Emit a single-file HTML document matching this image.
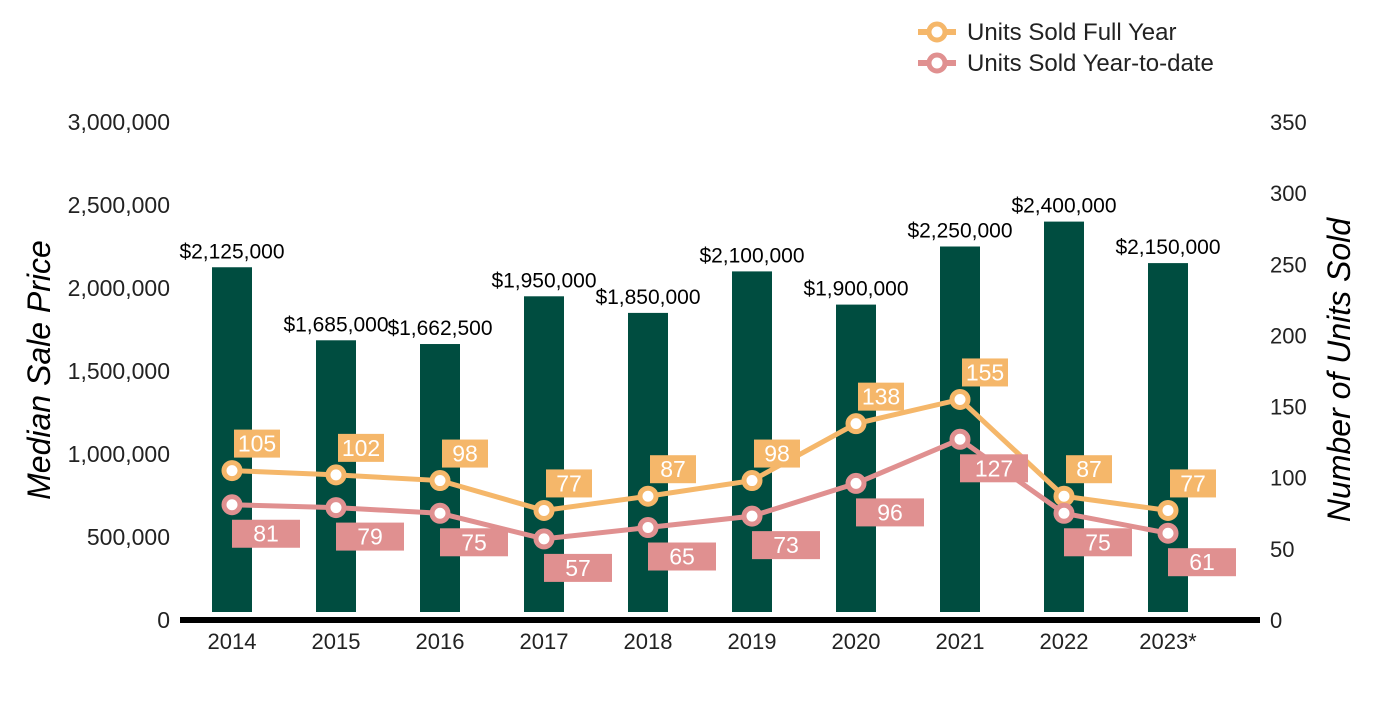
<!DOCTYPE html>
<html><head><meta charset="utf-8"><style>
body{margin:0;background:#fff;}
svg{font-family:"Liberation Sans",Arial,sans-serif;}
</style></head><body>
<svg id="chart" width="1400" height="700">
<g id="legend">
 <g>
  <line x1="918" y1="32" x2="956" y2="32" stroke="#F5B76A" stroke-width="6"/>
  <circle cx="937" cy="32" r="8" fill="#fff" stroke="#F5B76A" stroke-width="5"/>
  <text x="967" y="40" font-size="24" fill="#222">Units Sold Full Year</text>
 </g>
 <g>
  <line x1="918" y1="63" x2="956" y2="63" stroke="#E09090" stroke-width="6"/>
  <circle cx="937" cy="63" r="8" fill="#fff" stroke="#E09090" stroke-width="5"/>
  <text x="967" y="71" font-size="24" fill="#222">Units Sold Year-to-date</text>
 </g>
</g>
<text transform="translate(50,370) rotate(-90)" text-anchor="middle" font-size="32" font-style="italic" fill="#000">Median Sale Price</text>
<text transform="translate(1350,370) rotate(-90)" text-anchor="middle" font-size="32" font-style="italic" fill="#000">Number of Units Sold</text>
<g id="axes"></g>
<g id="bars"></g>
<g id="lines"></g>
</svg>
<script>
const categories=["2014","2015","2016","2017","2018","2019","2020","2021","2022","2023*"];
const prices=[2125000,1685000,1662500,1950000,1850000,2100000,1900000,2250000,2400000,2150000];
const priceLabels=["$2,125,000","$1,685,000","$1,662,500","$1,950,000","$1,850,000","$2,100,000","$1,900,000","$2,250,000","$2,400,000","$2,150,000"];
const fullYear=[105,102,98,77,87,98,138,155,87,77];
const ytd=[81,79,75,57,65,73,96,127,75,61];
const leftTicks=[0,500000,1000000,1500000,2000000,2500000,3000000];
const rightTicks=[0,50,100,150,200,250,300,350];

const NS="http://www.w3.org/2000/svg";
const y0=620,plotH=498;
const yL=v=>y0-v/3000000*plotH;
const yR=v=>y0-v/350*plotH;
const xC=i=>232+i*104;
function mk(tag,attrs,parent,text){const e=document.createElementNS(NS,tag);for(const k in attrs)e.setAttribute(k,attrs[k]);if(text!==undefined)e.textContent=text;parent.appendChild(e);return e;}
const axes=document.getElementById('axes'),bars=document.getElementById('bars'),lines=document.getElementById('lines');
leftTicks.forEach(t=>{const e=mk('text',{x:170,y:yL(t)+8,'text-anchor':'end','font-size':23,fill:'#222'},axes,t.toLocaleString('en-US'));

});
rightTicks.forEach(t=>{const e=mk('text',{x:1270,y:yR(t)+8,'font-size':22,fill:'#222'},axes,String(t));

});
categories.forEach((c,i)=>{const e=mk('text',{x:xC(i),y:649,'text-anchor':'middle','font-size':22,fill:'#222'},axes,c);

});
prices.forEach((p,i)=>{const top=yL(p);
const r=mk('rect',{x:xC(i)-20,y:top,width:40,height:612-top,fill:'#004D40'},bars);


const t=mk('text',{x:xC(i),y:top-9,'text-anchor':'middle','font-size':21,fill:'#000'},bars,priceLabels[i]);

});
const ax=mk('line',{x1:180,y1:620,x2:1260,y2:620,stroke:'#000','stroke-width':6},axes);


function series(vals,color,name,full){
 const pts=vals.map((v,i)=>xC(i)+','+yR(v)).join(' ');
 const pl=mk('polyline',{points:pts,fill:'none',stroke:color,'stroke-width':5},lines);
 
 
 vals.forEach((v,i)=>{const x=xC(i),y=yR(v);
  const c=mk('circle',{cx:x,cy:y,r:8,fill:'#fff',stroke:color,'stroke-width':5},lines);
  
  
  const bx=full?x+2:x, by=full?y-41:y+15, bw=full?46:68;
  const b=mk('rect',{x:bx,y:by,width:bw,height:28,fill:color},lines);
  
  
  const t=mk('text',{x:bx+bw/2,y:by+22,'text-anchor':'middle','font-size':23,fill:'#fff'},lines,String(v));
  
  });
}
series(fullYear,'#F5B76A','full-year',true);
series(ytd,'#E09090','ytd',false);
</script>
</body></html>
